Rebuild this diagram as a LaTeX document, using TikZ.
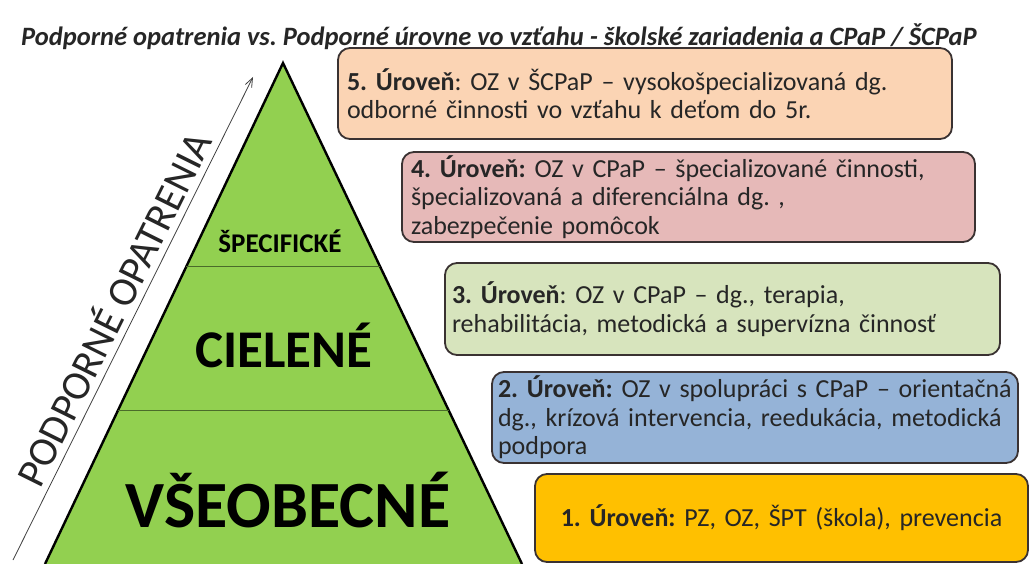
\documentclass[tikz,border=0pt]{standalone}
\usepackage{fontspec}
\setmainfont{Carlito}
\usetikzlibrary{arrows.meta,calc}
\definecolor{pyrgreen}{HTML}{92D050}
\definecolor{divline}{HTML}{4A6B2A}
\definecolor{boxline}{HTML}{3A3232}
\definecolor{txt}{HTML}{262626}
\definecolor{c5}{HTML}{FBD4B4}
\definecolor{c4}{HTML}{E6B9B8}
\definecolor{c3}{HTML}{D7E4BD}
\definecolor{c2}{HTML}{95B3D7}
\definecolor{c1}{HTML}{FFC000}
\frenchspacing
\begin{document}
\begin{tikzpicture}[x=1pt,y=-1pt,
  lvlbox/.style={draw=boxline, line width=1.8pt, rounded corners=12pt, inner xsep=9pt, inner ysep=3pt,
    align=left, font=\fontsize{26}{28.5}\selectfont, text=txt},
  pyrlabel/.style={font=\bfseries, text=black},
  divider/.style={draw=divline, line width=0.9pt},
]
\useasboundingbox (0,0) rectangle (1031,564);
\fill[white] (0,0) rectangle (1031,564);

% title
\node[anchor=west, inner sep=0pt, font=\fontsize{26.5}{30}\selectfont\bfseries\itshape, text=txt] (title) at (21,37)
  {Podporné opatrenia vs. Podporné úrovne vo vzťahu - školské zariadenia a CPaP / ŠCPaP};

% pyramid
\coordinate (apex) at (283,63);
\coordinate (bl) at (45,564);
\coordinate (br) at (522,564);
\fill[pyrgreen] (bl) -- (apex) -- (br) -- cycle;
\draw[line width=2.4pt, line join=miter] (bl) -- (apex) -- (br);
\coordinate (d1l) at ($(apex)!0.407!(bl)$);
\coordinate (d1r) at ($(apex)!0.407!(br)$);
\coordinate (d2l) at ($(apex)!0.693!(bl)$);
\coordinate (d2r) at ($(apex)!0.693!(br)$);
\draw[divider] (d1l) -- (d1r);
\draw[divider] (d2l) -- (d2r);
\node[pyrlabel, font=\fontsize{27}{30}\selectfont\bfseries] (spec) at (280,241) {ŠPECIFICKÉ};
\node[pyrlabel, font=\fontsize{53}{58}\selectfont\bfseries] (ciel) at (284,345) {CIELENÉ};
\node[pyrlabel, font=\fontsize{66}{70}\selectfont\bfseries] (vseo) at (288,500) {VŠEOBECNÉ};

% arrow
\coordinate (arrS) at (13,560);
\coordinate (arrE) at (253,77);
\draw[line width=0.8pt, draw=black!75, -{Straight Barb[length=9pt,width=7pt]}] (arrS) -- (arrE)
  node[midway, sloped, above=3pt, font=\fontsize{41}{44}\selectfont, text=txt] (popt) {PODPORNÉ OPATRENIA};

% level boxes
\node[lvlbox, fill=c5, minimum width=614pt, minimum height=91pt, text width=596pt] (b5) at (645,93.5)
  {\mbox{\textbf{5. Úroveň}: OZ v ŠCPaP – vysokošpecializovaná dg.}\\\mbox{odborné činnosti vo vzťahu k deťom do 5r.}};
\node[lvlbox, fill=c4, minimum width=573pt, minimum height=90pt, text width=555pt] (b4) at (688.5,197)
  {\mbox{\textbf{4. Úroveň:} OZ v CPaP – špecializované činnosti,}\\\mbox{špecializovaná a diferenciálna dg. ,}\\\mbox{zabezpečenie pomôcok}};
\node[lvlbox, fill=c3, minimum width=555pt, minimum height=92pt, text width=541pt, inner xsep=7pt] (b3) at (722.5,309)
  {\mbox{\textbf{3. Úroveň}: OZ v CPaP – dg., terapia,}\\\mbox{rehabilitácia, metodická a supervízna činnosť}};
\node[lvlbox, fill=c2, minimum width=526pt, minimum height=91pt, text width=514pt, inner xsep=6pt] (b2) at (755,417.5)
  {\mbox{\textbf{2. Úroveň:} OZ v spolupráci s CPaP – orientačná}\\\mbox{dg., krízová intervencia, reedukácia, metodická}\\\mbox{podpora}};
\node[lvlbox, fill=c1, minimum width=493pt, minimum height=88pt, text width=475pt, align=center] (b1) at (781.5,518)
  {\textbf{1. Úroveň:} PZ, OZ, ŠPT (škola), prevencia};
\end{tikzpicture}
\end{document}
